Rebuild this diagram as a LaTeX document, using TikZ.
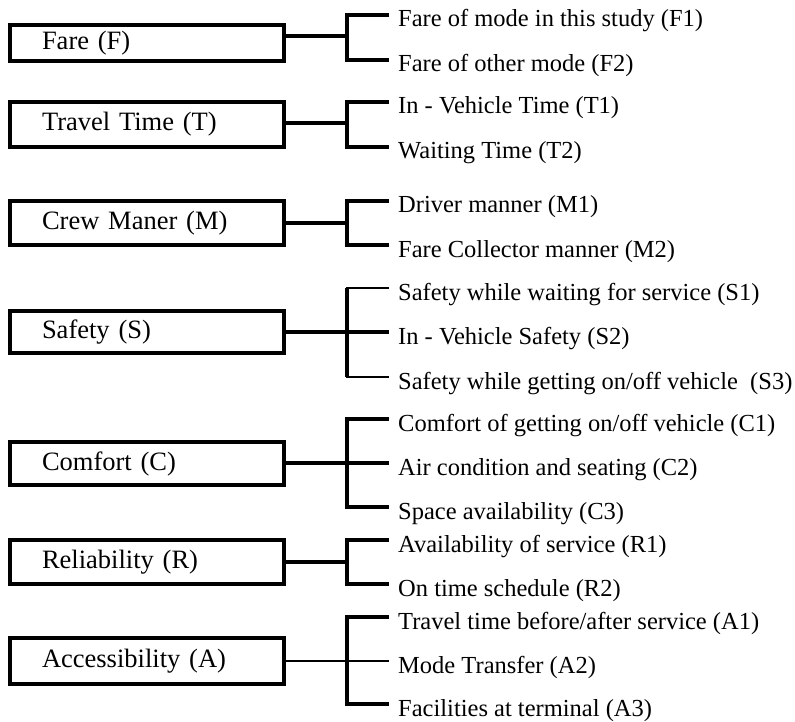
\documentclass[tikz,border=0pt]{standalone}
\usepackage{fontspec}
\setmainfont{Liberation Serif}
\begin{document}
\begin{tikzpicture}[x=1pt,y=-1pt,
  catbox/.style={draw, line width=3.1pt, minimum width=274pt, text width=210pt,
    inner xsep=32pt, inner ysep=0pt, align=left, font=\fontsize{26.5}{30}\selectfont},
  item/.style={anchor=base west, inner sep=0pt, font=\fontsize{24.5}{28}\selectfont},
  link/.style={line width=3.1pt, line join=miter},
  thinlink/.style={line width=1.9pt}]
\useasboundingbox (0,0) rectangle (795,722);

% ---------- Fare
\node[catbox, minimum height=36pt] (F) at (147,43) {Fare (F)};
\coordinate (Fj) at (347,36);
\coordinate (F1e) at (389,15);
\coordinate (F2e) at (389,60);
\node[item] (F1) at ([shift={(9,12)}]F1e) {Fare of mode in this study (F1)};
\node[item] (F2) at ([shift={(9,12)}]F2e) {Fare of other mode (F2)};
\draw[link] (F.east |- Fj) -- (Fj);
\draw[link] (F1e) -- (F1e -| Fj) -- (F2e -| Fj) -- (F2e);

% ---------- Travel time
\node[catbox, minimum height=45pt] (T) at (147,124.5) {Travel Time (T)};
\coordinate (Tj) at (347,123);
\coordinate (T1e) at (389,102);
\coordinate (T2e) at (389,147);
\node[item] (T1) at ([shift={(9,12)}]T1e) {In - Vehicle Time (T1)};
\node[item] (T2) at ([shift={(9,12)}]T2e) {Waiting Time (T2)};
\draw[link] (T.east |- Tj) -- (Tj);
\draw[link] (T1e) -- (T1e -| Tj) -- (T2e -| Tj) -- (T2e);

% ---------- Crew manner
\node[catbox, minimum height=44pt] (M) at (147,223) {Crew Maner (M)};
\coordinate (Mj) at (347,223);
\coordinate (M1e) at (389,201);
\coordinate (M2e) at (389,245);
\node[item] (M1) at ([shift={(9,12)}]M1e) {Driver manner (M1)};
\node[item] (M2) at ([shift={(9,12)}]M2e) {Fare Collector manner (M2)};
\draw[link] (M.east |- Mj) -- (Mj);
\draw[link] (M1e) -- (M1e -| Mj) -- (M2e -| Mj) -- (M2e);

% ---------- Safety
\node[catbox, minimum height=42pt] (S) at (147,332) {Safety (S)};
\coordinate (Sj) at (347,332);
\coordinate (S1e) at (389,288);
\coordinate (S2e) at (389,332);
\coordinate (S3e) at (389,377);
\node[item] (S1) at ([shift={(9,12)}]S1e) {Safety while waiting for service (S1)};
\node[item] (S2) at ([shift={(9,12)}]S2e) {In - Vehicle Safety (S2)};
\node[item] (S3) at ([shift={(9,12)}]S3e) {Safety while getting on/off vehicle\ \ (S3)};
\draw[link] (S.east |- Sj) -- (S2e);
\draw[thinlink] (S1e) -- (S1e -| Sj) -- (S3e -| Sj) -- (S3e);
\draw[link] (S1e -| Sj) -- (S3e -| Sj);

% ---------- Comfort
\node[catbox, minimum height=43pt] (C) at (147,463.5) {Comfort (C)};
\coordinate (Cj) at (347,463);
\coordinate (C1e) at (389,419);
\coordinate (C2e) at (389,463);
\coordinate (C3e) at (389,507);
\node[item] (C1) at ([shift={(9,12)}]C1e) {Comfort of getting on/off vehicle (C1)};
\node[item] (C2) at ([shift={(9,12)}]C2e) {Air condition and seating (C2)};
\node[item] (C3) at ([shift={(9,12)}]C3e) {Space availability (C3)};
\draw[link] (C.east |- Cj) -- (C2e);
\draw[link] (C1e) -- (C1e -| Cj) -- (C3e -| Cj) -- (C3e);

% ---------- Reliability
\node[catbox, minimum height=44pt] (R) at (147,562) {Reliability (R)};
\coordinate (Rj) at (347,562);
\coordinate (R1e) at (389,540);
\coordinate (R2e) at (389,584);
\node[item] (R1) at ([shift={(9,12)}]R1e) {Availability of service (R1)};
\node[item] (R2) at ([shift={(9,12)}]R2e) {On time schedule (R2)};
\draw[link] (R.east |- Rj) -- (Rj);
\draw[link] (R1e) -- (R1e -| Rj) -- (R2e -| Rj) -- (R2e);

% ---------- Accessibility
\node[catbox, minimum height=46pt] (A) at (147,661) {Accessibility (A)};
\coordinate (Aj) at (347,661);
\coordinate (A1e) at (389,617);
\coordinate (A2e) at (389,661);
\coordinate (A3e) at (389,704);
\node[item] (A1) at ([shift={(9,12)}]A1e) {Travel time before/after service (A1)};
\node[item] (A2) at ([shift={(9,12)}]A2e) {Mode Transfer (A2)};
\node[item] (A3) at ([shift={(9,12)}]A3e) {Facilities at terminal (A3)};
\draw[thinlink] (A.east |- Aj) -- (A2e);
\draw[link] (A1e) -- (A1e -| Aj) -- (A3e -| Aj) -- (A3e);
\end{tikzpicture}
\end{document}
